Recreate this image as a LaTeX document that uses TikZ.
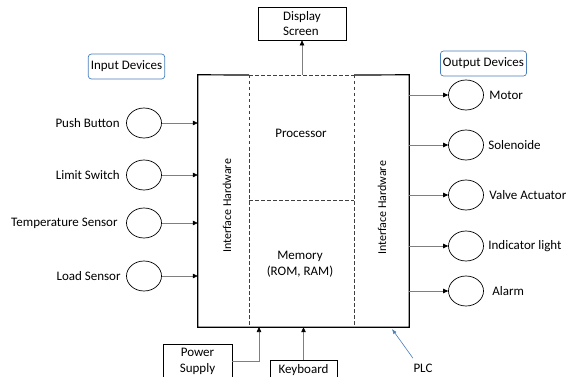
\documentclass[tikz,border=0pt]{standalone}
\usepackage{fontspec}
\setmainfont{Carlito}
\usetikzlibrary{arrows.meta,positioning,shapes.geometric}
\definecolor{DevBlue}{HTML}{4A7EBB}
\definecolor{WireGray}{HTML}{7F7F7F}

\begin{document}
\begin{tikzpicture}[x=1pt,y=-1pt, every node/.style={font=\fontsize{13}{15.5}\selectfont}, dev/.style={draw,ellipse,line width=0.7pt,minimum width=35pt,minimum height=30pt,inner sep=0pt}, grp/.style={draw=DevBlue,rounded corners=3pt,line width=0.7pt,minimum height=25pt,inner xsep=2.5pt}, bx/.style={draw,line width=0.7pt,align=left}, a/.style={-{Triangle[length=5pt,width=4.5pt,color=black]},WireGray,line width=0.6pt}, sep/.style={dashed,dash pattern=on 3.5pt off 2.5pt,line width=0.7pt,black!75}]
\useasboundingbox (0,0) rectangle (570,377);
% PLC frame
\node[minimum width=211pt,minimum height=252pt,inner sep=0pt] (plc) at (303.5,201) {};
\draw[line width=1.2pt] (249,75) -- (plc.north west) -- (plc.south west) -- (plc.south east) -- (plc.north east) -- (354,75);
\draw[sep] (249,75) -- (354,75);
\draw[sep] (249,75) -- (249,327);
\draw[sep] (354,75) -- (354,327);
\draw[sep] (249,200) -- (354,200);
\node (cpu) at (301,133) {Processor};
\node[align=center] (mem) at (300,264) {Memory\\(ROM, RAM)};
\node[rotate=90,font=\fontsize{12}{14}\selectfont] (ifl) at (227,206) {Interface Hardware};
\node[rotate=90,font=\fontsize{12}{14}\selectfont] (ifr) at (382,208) {Interface Hardware};
% group labels
\node[grp] (indev) at (126.5,66.5) {Input Devices};
\node[grp] (outdev) at (483.5,63.5) {Output Devices};
% input devices
\node[dev] (pb) at (144,123) {};
\node[dev] (ls) at (144,175) {};
\node[dev] (ts) at (144,223) {};
\node[dev] (ld) at (144,276) {};
\node[left=3pt of pb] {Push Button};
\node[left=3pt of ls] {Limit Switch};
\node[left=5pt of ts] {Temperature Sensor};
\node[left=2pt of ld] {Load Sensor};
\draw[a] (pb) -- (pb -| plc.west);
\draw[a] (ls) -- (ls -| plc.west);
\draw[a] (ts) -- (ts -| plc.west);
\draw[a] (ld) -- (ld -| plc.west);
% output devices
\node[dev] (mo) at (466,95) {};
\node[dev] (so) at (466,145) {};
\node[dev] (va) at (466,195) {};
\node[dev] (il) at (466,246) {};
\node[dev] (al) at (466,291) {};
\node[right=2pt of mo] {Motor};
\node[right=1pt of so] {Solenoide};
\node[right=2pt of va] {Valve Actuator};
\node[right=1pt of il] {Indicator light};
\node[right=5pt of al] {Alarm};
\draw[a] (mo -| plc.east) -- (mo);
\draw[a] (so -| plc.east) -- (so);
\draw[a] (va -| plc.east) -- (va);
\draw[a] (il -| plc.east) -- (il);
\draw[a] (al -| plc.east) -- (al);
% peripherals
\node[bx,minimum width=88pt,minimum height=33pt] (disp) at (302,23.5) {Display\\Screen};
\node[bx,align=center,minimum width=69pt,minimum height=35pt] (ps) at (197.5,361.5) {Power\\Supply};
\node[bx,minimum width=67pt,minimum height=20pt] (kb) at (303.5,370) {Keyboard};
\coordinate (psin) at (259,327);
\draw[a] (plc.north -| disp.south) -- (disp.south);
\draw[a] (ps.east) -| (psin);
\draw[a] (kb.north) -- (kb.north |- plc.south);
% PLC pointer
\node (plcl) at (423,368) {PLC};
\coordinate (plctip) at (392,329);
\draw[-{Latex[length=5pt]},DevBlue,line width=0.6pt] ([xshift=3pt,yshift=2pt]plcl.north west) -- (plctip);
\end{tikzpicture}
\end{document}
